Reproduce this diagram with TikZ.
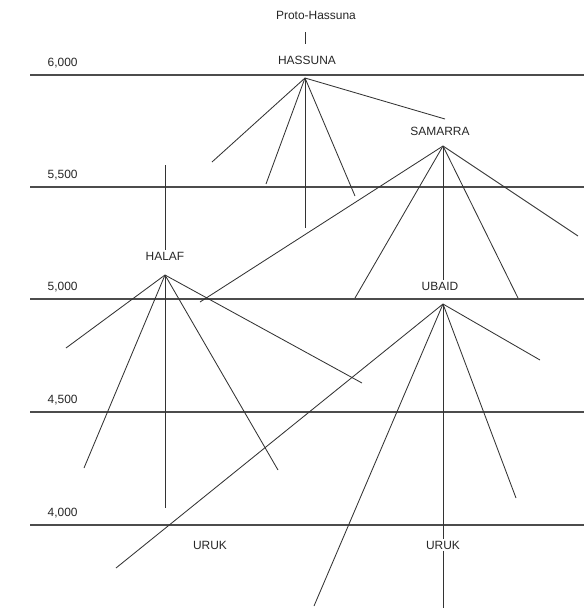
\documentclass[tikz,border=0pt]{standalone}
\usepackage{fontspec}
\setmainfont{Liberation Sans}
\usetikzlibrary{positioning}

\begin{document}
\begin{tikzpicture}[
  x=0.025cm, y=-0.025cm,
  every node/.style={font=\fontsize{8.5}{10}\selectfont, text=black!85},
  culture/.style={inner sep=1pt},
  datelbl/.style={anchor=south west, inner sep=1pt},
  timeline/.style={line width=0.75pt, black!70},
  branch/.style={line width=0.6pt, black!80},
]
\useasboundingbox (0,0) rectangle (586,608);

% Time scale
\foreach \yy/\lbl in {75/{6,000},187/{5,500},299/{5,000},412/{4,500},525/{4,000}}{
  \draw[timeline] (30,\yy) -- (584,\yy);
  \node[datelbl] at (46,\yy-5) {\lbl};
}

% Cultures
\node[culture] (proto) at (316,15) {Proto-Hassuna};
\node[culture] (hassunaL) at (307,60) {HASSUNA};
\node[culture] (samarraL) at (440,131) {SAMARRA};
\node[culture] (halafL) at (165,256) {HALAF};
\node[culture] (ubaidL) at (440,286) {UBAID};
\node[culture] (urukL) at (210,545) {URUK};
\node[culture] (urukR) at (443,545) {URUK};

\coordinate (hassuna) at (305,78);
\coordinate (samarra) at (443,146);
\coordinate (halaf) at (165,275);
\coordinate (ubaid) at (443,304);

% Branch ends
\foreach \n/\x/\y in {1/212/162, 2/266/184, 3/305/228, 4/355/196, 5/445/119}
  \coordinate (ha\n) at (\x,\y);
\foreach \n/\x/\y in {1/200/302, 2/355/298, 3/518/298, 4/578/236}
  \coordinate (sa\n) at (\x,\y);
\foreach \n/\x/\y in {0/165/165, 1/66/348, 2/84/468, 3/165/508, 4/278/470, 5/362/383}
  \coordinate (hf\n) at (\x,\y);
\foreach \n/\x/\y in {1/116/568, 2/314/606, 3/516/498, 4/540/360, 5/443/608}
  \coordinate (ub\n) at (\x,\y);

% Lines
\draw[branch] ([yshift=-8pt]proto.south -| hassuna) -- ([yshift=7pt]hassunaL.north -| hassuna);
\foreach \n in {1,...,5}
  \draw[branch] (hassuna) -- (ha\n);
\foreach \n in {1,...,4}
  \draw[branch] (samarra) -- (sa\n);
\draw[branch] (samarra) -- (samarra |- ubaidL.north);
\draw[branch] (hf0) -- (halafL.north);
\foreach \n in {1,...,5}
  \draw[branch] (halaf) -- (hf\n);
\foreach \n in {1,...,4}
  \draw[branch] (ubaid) -- (ub\n);
\draw[branch] (ubaid) -- (urukR.north);
\draw[branch] (urukR.south) -- (ub5);

\end{tikzpicture}
\end{document}
